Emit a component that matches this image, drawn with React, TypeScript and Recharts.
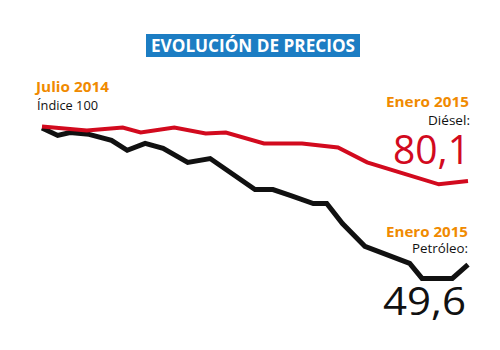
import React from "react";
import { LineChart, Line, XAxis, YAxis } from "recharts";

// Days since 1 July 2014 and index values (July 2014 = 100)
const dieselDias = [0, 20, 36, 44, 59, 73, 82, 99, 116, 132, 145, 161, 177, 190];
const dieselValores = [100, 98.5, 99.6, 97.8, 99.6, 97.4, 97.8, 93.8, 93.8, 92.3, 86.9, 82.9, 78.9, 80.1];

const petroleoDias = [0, 7, 12.5, 21, 31, 38, 46, 54, 65, 75, 95, 103, 111, 121, 127, 134, 144, 164, 169.5, 183, 190];
const petroleoValores = [99.4, 96.7, 97.8, 97.1, 94.9, 91.3, 93.8, 92.0, 86.9, 88.3, 77.0, 77.0, 74.8, 71.9, 71.9, 64.6, 56.3, 50.1, 44.6, 44.6, 49.6];

const titulo = "EVOLUCIÓN DE PRECIOS";
const inicioFecha = "Julio 2014";
const inicioTexto = "Índice 100";
const finFecha = "Enero 2015";
const dieselEtiqueta = "Diésel:";
const petroleoEtiqueta = "Petróleo:";
const dieselFinal = "80,1";
const petroleoFinal = "49,6";

const dieselData = dieselDias.map((d, i) => ({ dia: d, valor: dieselValores[i] }));
const petroleoData = petroleoDias.map((d, i) => ({ dia: d, valor: petroleoValores[i] }));

const ORANGE = "#f08a00";
const RED = "#d20a1e";
const BLUE = "#1c7dc3";
const FONT = "'Open Sans', 'Noto Sans', sans-serif";

export default function App() {
  return (
    <div style={{ position: "absolute", left: 0, top: 0, width: 500, height: 350, background: "#fff" }}>
      <LineChart width={500} height={350} margin={{ top: 99, right: 32, bottom: 59, left: 42 }}>
        <XAxis type="number" dataKey="dia" domain={[0, 190]} hide allowDuplicatedCategory={false} />
        <YAxis type="number" dataKey="valor" domain={[40, 110]} hide />
        <Line data={petroleoData} dataKey="valor" stroke="#111" strokeWidth={5} dot={false} isAnimationActive={false} strokeLinejoin="miter" />
        <Line data={dieselData} dataKey="valor" stroke={RED} strokeWidth={4} dot={false} isAnimationActive={false} strokeLinejoin="miter" />
      </LineChart>
      <svg width={500} height={350} style={{ position: "absolute", left: 0, top: 0, pointerEvents: "none" }}>
        <rect x={146} y={34} width={214} height={23} fill={BLUE} />
        <text x={253} y={52} textAnchor="middle" fill="#fff" fontFamily={FONT} fontWeight={700} fontSize={17} textLength={204} lengthAdjust="spacingAndGlyphs">{titulo}</text>

        <text x={36} y={92} fill={ORANGE} fontFamily={FONT} fontWeight={700} fontSize={14.5} textLength={73} lengthAdjust="spacingAndGlyphs">{inicioFecha}</text>
        <text x={37} y={110} fill="#111" fontFamily={FONT} fontSize={13.5} textLength={61} lengthAdjust="spacingAndGlyphs">{inicioTexto}</text>

        <text x={469} y={107} textAnchor="end" fill={ORANGE} fontFamily={FONT} fontWeight={700} fontSize={14.5} textLength={83} lengthAdjust="spacingAndGlyphs">{finFecha}</text>
        <text x={470} y={125} textAnchor="end" fill="#111" fontFamily={FONT} fontSize={13} textLength={42} lengthAdjust="spacingAndGlyphs">{dieselEtiqueta}</text>
        <text x={470} y={164} textAnchor="end" fill={RED} fontFamily={FONT} fontWeight={400} fontSize={40} textLength={77} lengthAdjust="spacingAndGlyphs">{dieselFinal}</text>

        <text x={468} y={237} textAnchor="end" fill={ORANGE} fontFamily={FONT} fontWeight={700} fontSize={14.5} textLength={82} lengthAdjust="spacingAndGlyphs">{finFecha}</text>
        <text x={468} y={253} textAnchor="end" fill="#111" fontFamily={FONT} fontSize={13} textLength={56} lengthAdjust="spacingAndGlyphs">{petroleoEtiqueta}</text>
        <text x={466} y={315} textAnchor="end" fill="#111" fontFamily={FONT} fontWeight={400} fontSize={39} textLength={83} lengthAdjust="spacingAndGlyphs">{petroleoFinal}</text>
      </svg>
    </div>
  );
}
